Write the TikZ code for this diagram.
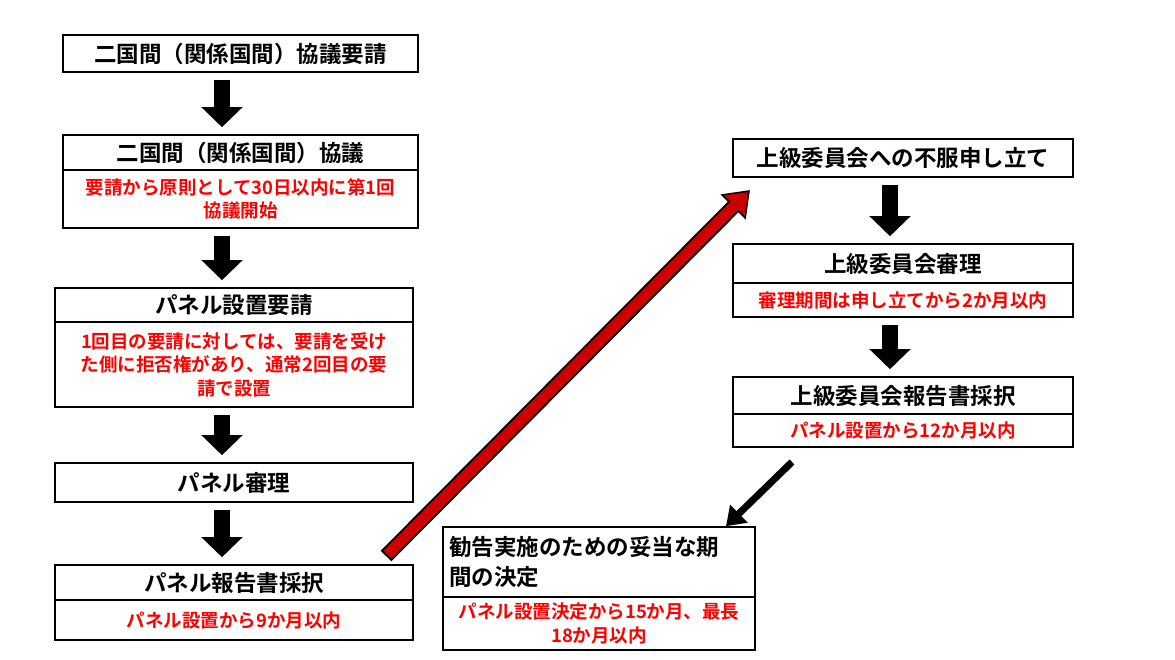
\documentclass[tikz,border=0pt]{standalone}
\usepackage{fontspec}
\setmainfont{Noto Sans CJK JP}[BoldFont={* Bold}]
\usetikzlibrary{arrows.meta}
\begin{document}
\begin{tikzpicture}[x=1pt,y=-1pt,
  box/.style={draw,line width=1.6pt,inner sep=0pt,font=\fontsize{22.5}{30}\selectfont\bfseries,align=center},
  rbox/.style={draw,line width=1.6pt,inner sep=0pt,text=red,font=\fontsize{18.5}{23.5}\selectfont\bfseries,align=center},
  down/.style={line width=16pt,-{Triangle[width=40pt,length=20pt]},shorten <=7pt,shorten >=7pt}]
\useasboundingbox (0,0) rectangle (1175,660);
% left column
\node[box,minimum width=355,minimum height=37] (a) at (240.5,53.5) {二国間（関係国間）協議要請};
\node[box,minimum width=355,minimum height=35] (b) at (240.5,152.5) {二国間（関係国間）協議};
\node[rbox,minimum width=355,minimum height=58,text width=352] (b2) at (240.5,199) {要請から原則として30日以内に第1回\\協議開始};
\node[box,minimum width=358,minimum height=34] (c) at (234,305) {パネル設置要請};
\node[rbox,minimum width=358,minimum height=85,text width=355] (c2) at (234,364.5) {1回目の要請に対しては、要請を受け\\た側に拒否権があり、通常2回目の要\\請で設置};
\node[box,minimum width=358,minimum height=39] (d) at (234,482.5) {パネル審理};
\node[box,minimum width=358,minimum height=35] (e) at (234,582.5) {パネル報告書採択};
\node[rbox,minimum width=358,minimum height=40] (e2) at (234,620) {パネル設置から9か月以内};
% right column
\node[box,minimum width=340,minimum height=38] (f) at (903,158) {上級委員会への不服申し立て};
\node[box,minimum width=340,minimum height=39] (g) at (903,263.5) {上級委員会審理};
\node[rbox,minimum width=340,minimum height=34] (g2) at (903,300) {審理期間は申し立てから2か月以内};
\node[box,minimum width=340,minimum height=37] (h) at (903,395.5) {上級委員会報告書採択};
\node[rbox,minimum width=340,minimum height=33] (h2) at (903,430.5) {パネル設置から12か月以内};
\node[box,minimum width=312,minimum height=70,text width=300,align=left] (k) at (599,562) {勧告実施のための妥当な期\\間の決定};
\node[rbox,minimum width=312,minimum height=53,text width=310] (k2) at (599,623.5) {パネル設置決定から15か月、最長\\18か月以内};
% down arrows
\draw[down] (a.south -| 222,0) -- (b.north -| 222,0);
\draw[down] (b2.south -| 222,0) -- (c.north -| 222,0);
\draw[down] (c2.south -| 222,0) -- (d.north -| 222,0);
\draw[down] (d.south -| 222,0) -- (e.north -| 222,0);
\draw[down] (f.south -| 890,0) -- (g.north -| 890,0);
\draw[down] (g2.south -| 890,0) -- (h.north -| 890,0);
% red diagonal
\coordinate (r1) at (386,556);
\coordinate (r2) at (750,190);
\draw[line width=15pt,-{Triangle[width=34pt,length=24pt]}] (r1) -- (r2);
\draw[line width=11pt,red!80!black,-{Triangle[width=28pt,length=19pt]},shorten <=2pt,shorten >=3pt] (r1) -- (r2);
% black diagonal
\coordinate (s1) at (792,462);
\draw[line width=7pt,-{Triangle[width=24pt,length=18pt]}] (s1) -- (k.north east -| 726,0) ;
\end{tikzpicture}
\end{document}
